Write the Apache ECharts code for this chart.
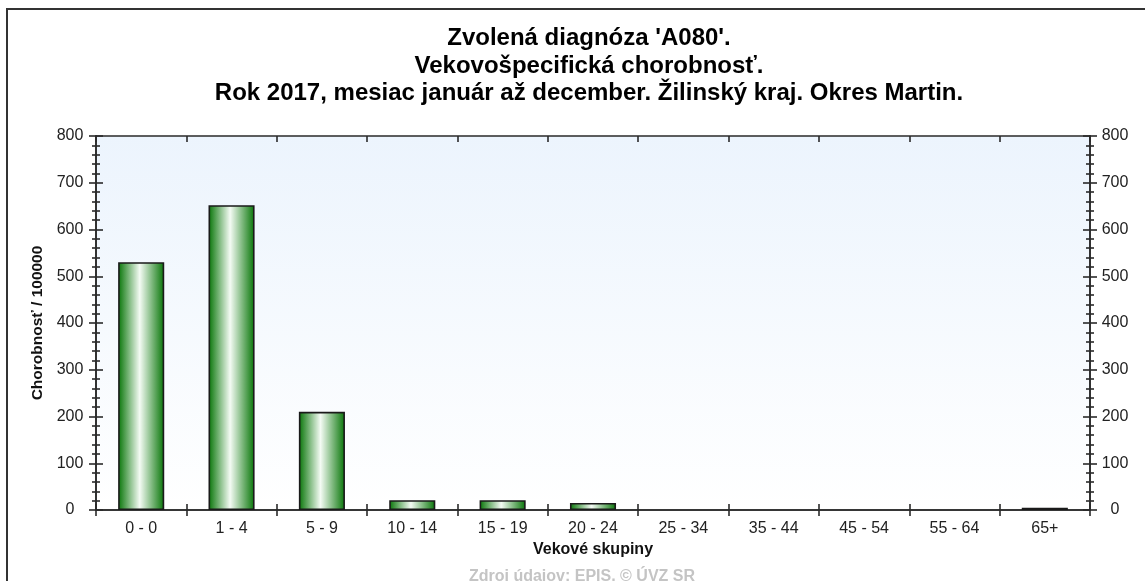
<!DOCTYPE html>
<html>
<head>
<meta charset="utf-8">
<script src="https://cdn.jsdelivr.net/npm/echarts@6/dist/echarts.min.js"></script>
<style>
  html, body { margin: 0; padding: 0; background: #fff; }
  #chart { width: 1145px; height: 581px; }
</style>
</head>
<body>
<div id="chart"></div>
<script>
const titleLines = [
  "Zvolená diagnóza 'A080'.",
  "Vekovošpecifická chorobnosť.",
  "Rok 2017, mesiac január až december. Žilinský kraj. Okres Martin."
];
const ageGroups = ["0 - 0", "1 - 4", "5 - 9", "10 - 14", "15 - 19", "20 - 24", "25 - 34", "35 - 44", "45 - 54", "55 - 64", "65+"];
const morbidity = [530, 652, 210, 21, 21, 15, 0, 0, 0, 0, 5];
const yMin = 0;
const yMax = 800;
const yStep = 100;

const font = "Arial, 'Liberation Sans', sans-serif";
const chart = echarts.init(document.getElementById("chart"));

const labelStyle = { color: "#222", fontSize: 16, fontFamily: font };
const lineStyle = { color: "#2a2a2a", width: 1.6 };

function valueAxis(pos, inside, labels) {
  return {
    type: "value",
    position: pos,
    min: yMin,
    max: yMax,
    interval: yStep,
    axisLine: { show: true, onZero: false, lineStyle },
    axisTick: { show: true, inside, length: 7, lineStyle },
    minorTick: { show: true, splitNumber: 5, length: 4, lineStyle },
    splitLine: { show: false },
    axisLabel: labels ? { ...labelStyle, align: "center", margin: pos === "left" ? 26 : 25 } : { show: false },
  };
}

function catAxis(pos, inside, labels) {
  return {
    type: "category",
    position: pos,
    data: ageGroups,
    axisLine: { show: true, onZero: false, lineStyle },
    axisTick: { show: true, inside, length: 6, lineStyle },
    splitLine: { show: false },
    axisLabel: labels ? { ...labelStyle, margin: 11 } : { show: false },
  };
}

const xBottom = catAxis("bottom", false, true);
xBottom.name = "Vekové skupiny";
xBottom.nameLocation = "middle";
xBottom.nameGap = 32;
xBottom.nameTextStyle = { color: "#111", fontSize: 16, fontWeight: "bold", fontFamily: font };

const yLeft = valueAxis("left", false, true);
yLeft.name = "Chorobnosť / 100000";
yLeft.nameLocation = "middle";
yLeft.nameGap = 47;
yLeft.nameTextStyle = { color: "#111", fontSize: 15.5, fontWeight: "bold", fontFamily: font };

const option = {
  backgroundColor: "#fff",
  animation: false,
  title: {
    text: titleLines.join("\n"),
    left: 584,
    textAlign: "center",
    top: 20,
    textStyle: { color: "#000", fontSize: 24, fontWeight: "bold", fontFamily: font, lineHeight: 27.5 },
  },
  graphic: [
    {
      type: "rect",
      shape: { x: 7, y: 9, width: 1200, height: 700 },
      style: { fill: "none", stroke: "#333", lineWidth: 2 },
      silent: true,
    },
    {
      type: "text",
      x: 582,
      y: 569,
      style: { text: "Zdroj údajov: EPIS, © ÚVZ SR", fill: "#c4c4c4", font: "bold 16px " + font, align: "center" },
      silent: true,
    },
  ],
  grid: {
    left: 96,
    right: 55,
    top: 136,
    bottom: 71,
    show: true,
    borderWidth: 0,
    backgroundColor: new echarts.graphic.LinearGradient(0, 0, 0, 1, [
      { offset: 0, color: "#ecf4fd" },
      { offset: 1, color: "#ffffff" },
    ]),
  },
  xAxis: [xBottom, catAxis("bottom", true, false), catAxis("top", true, false)],
  yAxis: [yLeft, valueAxis("left", true, false), valueAxis("right", false, true), valueAxis("right", true, false)],
  series: [
    {
      type: "bar",
      xAxisIndex: 0,
      yAxisIndex: 0,
      // zero-height bars are not drawn in the reference
      data: morbidity.map((v) => (v === 0 ? null : v)),
      barWidth: "51%",
      itemStyle: {
        color: new echarts.graphic.LinearGradient(0, 0, 1, 0, [
          { offset: 0, color: "#077507" },
          { offset: 0.47, color: "#f4fbf4" },
          { offset: 1, color: "#077507" },
        ]),
        borderColor: "#1a1a1a",
        borderWidth: 1.6,
      },
    },
  ],
};

chart.setOption(option);
</script>
</body>
</html>
